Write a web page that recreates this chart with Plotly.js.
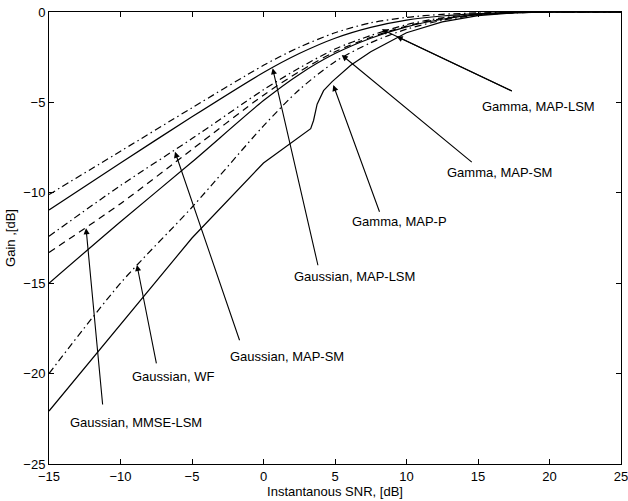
<!DOCTYPE html>
<html>
<head>
<meta charset="utf-8">
<script src="https://cdn.plot.ly/plotly-3.0.1.min.js"></script>
<style>html,body{margin:0;padding:0;background:#fff;}#chart{width:628px;height:501px;}</style>
</head>
<body>
<div id="chart"></div>
<script>
// Instantaneous SNR sample points [dB]
const snr = [-15, -10, -5, 0, 2.5, 5, 7.5, 10, 12.5, 15, 17.5, 20, 25];
// Gain curves [dB]
const gainDashDotTop = [-10.1, -7.7, -5.3, -2.95, -1.95, -1.15, -0.6, -0.3, -0.13, -0.05, -0.01, 0, 0];
const gainSolidTop   = [-10.95, -8.35, -5.8, -3.35, -2.3, -1.45, -0.85, -0.45, -0.22, -0.09, -0.02, 0, 0];
const gainDashDotMid = [-12.4, -9.6, -7.0, -4.3, -3.1, -2.05, -1.3, -0.7, -0.32, -0.12, -0.03, 0, 0];
const gainDashed     = [-13.3, -10.6, -7.6, -4.6, -3.3, -2.2, -1.4, -0.78, -0.36, -0.14, -0.04, 0, 0];
const gainSolidMid   = [-15.0, -11.6, -8.3, -4.9, -3.45, -2.3, -1.45, -0.82, -0.4, -0.15, -0.04, 0, 0];
const gainWF         = [-20.0, -15.0, -10.8, -6.3, -4.3, -2.75, -1.7, -0.95, -0.46, -0.17, -0.05, 0, 0];
// Gamma MAP-P curve (has a kink)
const snrMapP  = [-15, -10, -5, 0, 2, 3, 3.3, 3.5, 3.75, 4.2, 4.8, 6.1, 7.5, 10, 12.5, 15, 17.5, 20, 25];
const gainMapP = [-22.07, -17.3, -12.5, -8.35, -7.2, -6.65, -6.45, -6.0, -5.1, -4.35, -3.85, -2.95, -2.2, -1.15, -0.55, -0.2, -0.05, 0, 0];

// Labels: text, text position, arrow tail, arrow tip
const labelText = ["Gamma, MAP-LSM", "Gamma, MAP-SM", "Gamma, MAP-P", "Gaussian, MAP-LSM", "Gaussian, MAP-SM", "Gaussian, WF", "Gaussian, MMSE-LSM"];
const labelX = [19.2, 16.47, 9.48, 6.33, 1.64, -6.33, -8.92];
const labelY = [-5.25, -8.89, -11.6, -14.64, -19.07, -20.17, -22.72];
const tailX = [17.47, 14.67, 8.15, 3.83, -1.64, -7.47, -11.24];
const tailY = [-4.41, -8.37, -11.13, -14.09, -18.24, -19.52, -21.79];
const tipX = [8.27, 5.47, 4.88, 0.64, -6.19, -8.85, -12.41];
const tipY = [-0.96, -2.38, -4.04, -3.11, -7.73, -13.99, -11.96];
// extra arrowhead on the Gamma, MAP-LSM arrow
const extraTipX = [9.31];
const extraTipY = [-1.35];

const xTicks = [-15, -10, -5, 0, 5, 10, 15, 20, 25];
const yTicks = [-25, -20, -15, -10, -5, 0];
const fmt = v => (v < 0 ? '\u2212' + Math.abs(v) : String(v));

const DD = '7px,3.5px,1.5px,3.5px';
const DA = '7px,5px';
function tr(x, y, dash, shape) {
  return {x: x, y: y, mode: 'lines', type: 'scatter', showlegend: false, hoverinfo: 'skip',
    line: {color: '#000', width: 1.2, dash: dash, shape: shape || 'spline', smoothing: 0.8}};
}
const data = [
  tr(snr, gainDashDotTop, DD),
  tr(snr, gainSolidTop, 'solid'),
  tr(snr, gainDashDotMid, DD),
  tr(snr, gainDashed, DA),
  tr(snr, gainSolidMid, 'solid'),
  tr(snr, gainWF, DD),
  tr(snrMapP, gainMapP, 'solid', 'linear')
];

const font = {family: '"Liberation Sans", Arial, Helvetica, sans-serif', color: '#000'};
const annotations = [];
for (let i = 0; i < labelText.length; i++) {
  annotations.push({x: labelX[i], y: labelY[i], xref: 'x', yref: 'y', text: labelText[i], showarrow: false,
    font: Object.assign({size: 13}, font), xanchor: 'center', yanchor: 'middle'});
  annotations.push({x: tipX[i], y: tipY[i], xref: 'x', yref: 'y', ax: tailX[i], ay: tailY[i], axref: 'x', ayref: 'y',
    text: '', showarrow: true, arrowhead: 2, arrowsize: 1.1, arrowwidth: 1.1, arrowcolor: '#000', standoff: 0, startstandoff: 0});
}
for (let j = 0; j < extraTipX.length; j++) {
  annotations.push({x: extraTipX[j], y: extraTipY[j], xref: 'x', yref: 'y', ax: tailX[0], ay: tailY[0], axref: 'x', ayref: 'y',
    text: '', showarrow: true, arrowhead: 2, arrowsize: 1.1, arrowwidth: 1.1, arrowcolor: '#000', standoff: 0});
}

const axisCommon = {
  showline: true, linecolor: '#000', linewidth: 1, mirror: 'ticks', ticks: 'inside', ticklen: 5, tickwidth: 1,
  tickcolor: '#000', showgrid: false, zeroline: false, tickfont: Object.assign({size: 13}, font), fixedrange: true,
  ticklabeloverflow: 'allow'
};
const layout = {
  width: 628, height: 501,
  margin: {l: 49, r: 7, t: 12, b: 37},
  paper_bgcolor: '#fff', plot_bgcolor: '#fff',
  font: font,
  xaxis: Object.assign({}, axisCommon, {range: [-15, 25], tickvals: xTicks, ticktext: xTicks.map(fmt),
    title: {text: 'Instantanous SNR, [dB]', font: Object.assign({size: 13}, font), standoff: 1}}),
  yaxis: Object.assign({}, axisCommon, {range: [-25, 0], tickvals: yTicks, ticktext: yTicks.map(fmt),
    title: {text: 'Gain ,[dB]', font: Object.assign({size: 13}, font), standoff: 4}}),
  annotations: annotations
};
Plotly.newPlot('chart', data, layout, {staticPlot: true, displayModeBar: false});
</script>
</body>
</html>
